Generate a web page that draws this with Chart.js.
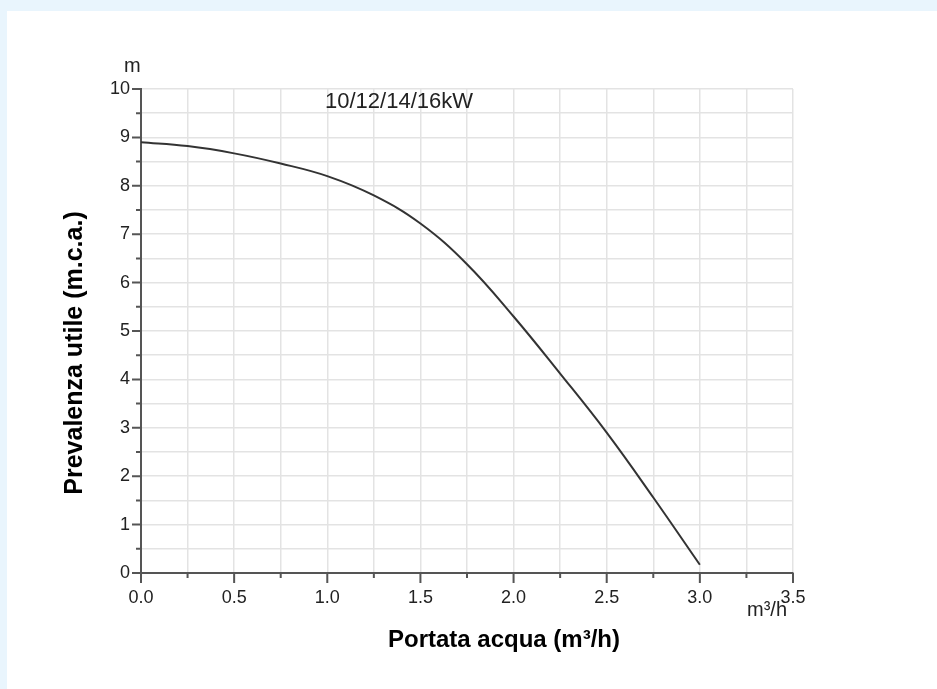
<!DOCTYPE html>
<html>
<head>
<meta charset="utf-8">
<script src="https://cdn.jsdelivr.net/npm/chart.js@4"></script>
<style>
    html, body { margin: 0; padding: 0; }
    body { background: #e9f5fd; width: 937px; height: 689px; overflow: hidden; position: relative; }
    #panel { position: absolute; left: 7px; top: 11px; right: 0; bottom: 0; background: #fff; }
    #pumpChart { position: absolute; left: 0; top: 0; }
</style>
</head>
<body>
<div id="panel"></div>
<canvas id="pumpChart" width="937" height="689"></canvas>
<script>
// portata (m3/h) e prevalenza (m)
const flowRates = [0, 0.25, 0.5, 0.75, 1.0, 1.25, 1.5, 1.75, 2.0, 2.25, 2.5, 2.75, 3.0];
const heads = [8.9, 8.82, 8.67, 8.46, 8.2, 7.8, 7.22, 6.38, 5.3, 4.12, 2.9, 1.56, 0.17];

const xMin = 0, xMax = 3.5, xStep = 0.25;
const yMin = 0, yMax = 10, yStep = 0.5;

const FONT = "'Liberation Sans', Arial, sans-serif";
const AXIS_COLOR = '#555';

const isMajor = (v, step) => Math.abs(v / step - Math.round(v / step)) < 1e-6;

// tacche maggiori / minori disegnate sulle scale
const axisTicks = {
    id: 'axisTicks',
    afterDraw(chart) {
        const { ctx, scales: { x, y }, chartArea } = chart;
        ctx.save();
        ctx.strokeStyle = AXIS_COLOR;
        ctx.lineWidth = 2;
        ctx.beginPath();
        x.ticks.forEach(t => {
            const px = x.getPixelForValue(t.value);
            const len = isMajor(t.value, 0.5) ? 10 : 5;
            ctx.moveTo(px, chartArea.bottom);
            ctx.lineTo(px, chartArea.bottom + len);
        });
        y.ticks.forEach(t => {
            const py = y.getPixelForValue(t.value);
            const len = isMajor(t.value, 1) ? 9 : 5;
            ctx.moveTo(chartArea.left, py);
            ctx.lineTo(chartArea.left - len, py);
        });
        ctx.stroke();
        ctx.restore();
    }
};

const labels = {
    id: 'labels',
    afterDraw(chart) {
        const ctx = chart.ctx;
        ctx.save();
        ctx.fillStyle = '#222';
        ctx.textBaseline = 'alphabetic';
        ctx.textAlign = 'left';
        ctx.font = `22px ${FONT}`;
        ctx.fillText('10/12/14/16kW', 325, 108);
        ctx.font = `20px ${FONT}`;
        ctx.fillText('m', 124, 72);
        ctx.fillText('m³/h', 747, 616);

        ctx.fillStyle = '#000';
        ctx.font = `bold 24px ${FONT}`;
        ctx.textAlign = 'center';
        ctx.textBaseline = 'middle';
        ctx.fillText('Portata acqua (m³/h)', 504, 640);
        ctx.font = `bold 25px ${FONT}`;
        ctx.translate(75, 353);
        ctx.rotate(-Math.PI / 2);
        ctx.fillText('Prevalenza utile (m.c.a.)', 0, 0);
        ctx.restore();
    }
};

new Chart(document.getElementById('pumpChart').getContext('2d'), {
    type: 'line',
    data: {
        datasets: [{
            data: flowRates.map((q, i) => ({ x: q, y: heads[i] })),
            borderColor: '#333',
            borderWidth: 2,
            pointRadius: 0,
            fill: false,
            tension: 0.4
        }]
    },
    options: {
        responsive: false,
        animation: false,
        layout: { padding: { left: 0, top: 89, right: 144, bottom: 0 } },
        scales: {
            x: {
                type: 'linear',
                min: xMin,
                max: xMax,
                afterFit: s => { s.height = 116; },
                ticks: {
                    stepSize: xStep,
                    autoSkip: false,
                    maxRotation: 0,
                    padding: 14,
                    color: '#222',
                    font: { family: FONT, size: 18 },
                    callback: v => isMajor(v, 0.5) ? v.toFixed(1) : ''
                },
                grid: { color: '#e3e3e3', lineWidth: 1.5, drawTicks: false },
                border: { color: AXIS_COLOR, width: 2 }
            },
            y: {
                min: yMin,
                max: yMax,
                afterFit: s => { s.width = 141; },
                ticks: {
                    stepSize: yStep,
                    autoSkip: false,
                    padding: 11,
                    color: '#222',
                    font: { family: FONT, size: 18 },
                    callback: v => isMajor(v, 1) ? v : ''
                },
                grid: { color: '#e3e3e3', lineWidth: 1.5, drawTicks: false },
                border: { color: AXIS_COLOR, width: 2 }
            }
        },
        plugins: {
            legend: { display: false },
            tooltip: { enabled: false }
        }
    },
    plugins: [axisTicks, labels]
});
</script>
</body>
</html>
